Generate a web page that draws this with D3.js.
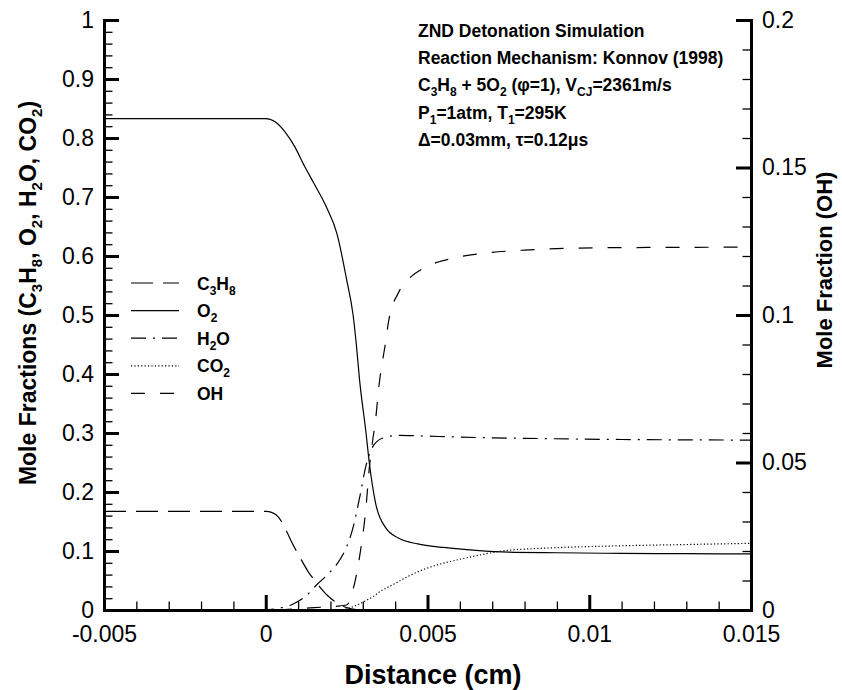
<!DOCTYPE html>
<html>
<head>
<meta charset="utf-8">
<script src="https://cdn.jsdelivr.net/npm/d3@7"></script>
<style>
body { margin: 0; background: #fff; }
text { font-family: "Liberation Sans", Arial, sans-serif; fill: #000; }
</style>
</head>
<body>
<svg id="chart" width="842" height="690"></svg>
<script>
// distance (cm), mole fraction
var c3h8 = [[-0.005,0.167],[0,0.167],[0.0002,0.165],[0.0004,0.157],[0.0006,0.138],[0.00085,0.11],
	[0.0011,0.085],[0.0013,0.066],[0.0016,0.044],[0.0019,0.025],[0.0022,0.012],[0.0025,0.004],
	[0.0028,0.0008],[0.0032,0],[0.015,0]];
var o2 = [[-0.005,0.833],[0,0.833],[0.0003,0.827],[0.0006,0.81],[0.0009,0.785],[0.0012,0.752],
	[0.0015,0.722],[0.0019,0.68],[0.0022,0.638],[0.0025,0.56],[0.0027,0.5],[0.0028,0.45],
	[0.0029,0.39],[0.0031,0.3],[0.0032,0.25],[0.0034,0.18],[0.0037,0.14],[0.0041,0.122],
	[0.0047,0.112],[0.0055,0.106],[0.0065,0.101],[0.0075,0.098],[0.009,0.097],[0.011,0.096],
	[0.013,0.0955],[0.015,0.095]];
var h2o = [[-0.005,0],[0,0],[0.0004,0.003],[0.0008,0.009],[0.0012,0.022],[0.0016,0.044],
	[0.002,0.065],[0.0023,0.086],[0.0025,0.107],[0.0027,0.14],[0.0029,0.19],[0.0031,0.245],
	[0.0033,0.276],[0.0036,0.291],[0.0041,0.296],[0.0048,0.295],[0.006,0.293],[0.008,0.291],
	[0.011,0.289],[0.015,0.288]];
var co2 = [[-0.005,0],[0.0023,0],[0.0025,0.002],[0.0028,0.008],[0.0031,0.016],[0.0033,0.022],
	[0.0035,0.03],[0.004,0.045],[0.0044,0.057],[0.0048,0.067],[0.0054,0.078],[0.006,0.086],
	[0.0066,0.093],[0.0073,0.1],[0.0087,0.105],[0.0107,0.1085],[0.013,0.111],[0.015,0.113]];
// OH is on the right axis (0 - 0.2)
var oh = [[-0.005,0],[0,0],[0.0015,0.0008],[0.0025,0.0017],[0.0027,0.007],[0.0029,0.018],
	[0.0031,0.035],[0.0032,0.048],[0.0033,0.057],[0.0034,0.065],[0.0035,0.076],[0.0037,0.0905],
	[0.0038,0.098],[0.0041,0.1075],[0.0044,0.112],[0.0049,0.116],[0.0057,0.119],[0.0068,0.121],
	[0.008,0.122],[0.0105,0.1228],[0.015,0.123]];

var xTicks = [-0.005, 0, 0.005, 0.01, 0.015];
var yTicks = [0, 0.1, 0.2, 0.3, 0.4, 0.5, 0.6, 0.7, 0.8, 0.9, 1];
var y2Ticks = [0, 0.05, 0.1, 0.15, 0.2];

var legendNames = ['C_{3}H_{8}', 'O_{2}', 'H_{2}O', 'CO_{2}', 'OH'];
var notes = [
	'ZND Detonation Simulation',
	'Reaction Mechanism: Konnov (1998)',
	'C_{3}H_{8} + 5O_{2} (\u03c6=1), V_{CJ}=2361m/s',
	'P_{1}=1atm, T_{1}=295K',
	'\u0394=0.03mm, \u03c4=0.12\u03bcs'
];

var svg = d3.select('#chart');
var plotLeft = 104, plotRight = 751, plotTop = 20, plotBottom = 610;

var x = d3.scaleLinear().domain([-0.005, 0.015]).range([plotLeft, plotRight]);
var y = d3.scaleLinear().domain([0, 1]).range([plotBottom, plotTop]);
var y2 = d3.scaleLinear().domain([0, 0.2]).range([plotBottom, plotTop]);

var fmt = function(d) { return String(+d.toFixed(6)); };

// line styles per series, same order as legend
var series = [
	{data: c3h8, scale: y, dash: '22,10'},
	{data: o2, scale: y, dash: null},
	{data: h2o, scale: y, dash: '15,7,2,7'},
	{data: co2, scale: y, dash: '1.2,2.2'},
	{data: oh, scale: y2, dash: '14,15'}
];

var plot = svg.append('g');
series.forEach(function(s) {
	var line = d3.line()
		.x(function(d) { return x(d[0]); })
		.y(function(d) { return s.scale(d[1]); })
		.curve(d3.curveMonotoneX);
	plot.append('path')
		.datum(s.data)
		.attr('d', line)
		.attr('fill', 'none')
		.attr('stroke', '#000')
		.attr('stroke-width', 1.2)
		.attr('stroke-dasharray', s.dash);
});

// minor ticks first, majors on top
function minor(axis, at, vals) {
	var g = svg.append('g').attr('transform', at)
		.call(axis.tickValues(vals).tickSize(-8.5).tickSizeOuter(0).tickFormat(''));
	g.select('.domain').remove();
	g.selectAll('line').attr('stroke-width', 1.3);
}
minor(d3.axisBottom(x), 'translate(0,' + plotBottom + ')', d3.range(-5, 16).map(function(i) { return i / 1000; }));
minor(d3.axisLeft(y), 'translate(' + plotLeft + ',0)', d3.range(0, 51).map(function(i) { return i / 50; }));
minor(d3.axisRight(y2), 'translate(' + plotRight + ',0)', d3.range(0, 21).map(function(i) { return i / 100; }));

function major(axis, at, vals, pad) {
	var g = svg.append('g').attr('transform', at)
		.call(axis.tickValues(vals).tickSize(-15).tickSizeOuter(0).tickPadding(pad).tickFormat(fmt));
	g.select('.domain').attr('stroke-width', 3).attr('stroke-linecap', 'square');
	g.selectAll('line').attr('stroke-width', 3);
	g.selectAll('text').attr('font-size', 23).attr('font-family', '"Liberation Sans", Arial, sans-serif');
	return g;
}
major(d3.axisBottom(x), 'translate(0,' + plotBottom + ')', xTicks, 15.5);
major(d3.axisLeft(y), 'translate(' + plotLeft + ',0)', yTicks, 10);
major(d3.axisRight(y2), 'translate(' + plotRight + ',0)', y2Ticks, 11);

// text with _{sub} markup
function rich(sel, str, subSize, shift) {
	var parts = str.split(/_\{([^}]*)\}/);
	var down = false;
	parts.forEach(function(p, i) {
		if (p === '') return;
		var t = sel.append('tspan').text(p);
		if (i % 2 === 1) {
			t.attr('font-size', subSize);
			if (!down) { t.attr('dy', shift); down = true; }
		} else if (down) {
			t.attr('dy', -shift);
			down = false;
		}
	});
	return sel;
}

// axis titles
svg.append('text')
	.attr('x', 433).attr('y', 684)
	.attr('text-anchor', 'middle')
	.attr('font-size', 27).attr('font-weight', 'bold')
	.text('Distance (cm)');
rich(svg.append('text')
	.attr('transform', 'translate(36,293) rotate(-90)')
	.attr('text-anchor', 'middle')
	.attr('font-size', 23).attr('font-weight', 'bold'),
	'Mole Fractions (C_{3}H_{8}, O_{2}, H_{2}O, CO_{2})', 15, 6);
svg.append('text')
	.attr('transform', 'translate(832,270) rotate(-90)')
	.attr('text-anchor', 'middle')
	.attr('font-size', 22).attr('font-weight', 'bold')
	.text('Mole Fraction (OH)');

// legend
var legend = svg.append('g');
legendNames.forEach(function(name, i) {
	var ly = 283 + i * 27.6;
	legend.append('line')
		.attr('x1', 131).attr('x2', 179)
		.attr('y1', ly).attr('y2', ly)
		.attr('stroke', '#000').attr('stroke-width', 1.2)
		.attr('stroke-dasharray', series[i].dash);
	rich(legend.append('text')
		.attr('x', 197).attr('y', ly + 6.5)
		.attr('font-size', 17.5).attr('font-weight', 'bold'),
		name, 12, 5);
});

// annotation block
var note = svg.append('g');
notes.forEach(function(s, i) {
	rich(note.append('text')
		.attr('x', 418).attr('y', 37 + i * 27.2)
		.attr('font-size', 17.5).attr('font-weight', 'bold'),
		s, 12, 5);
});
</script>
</body>
</html>
